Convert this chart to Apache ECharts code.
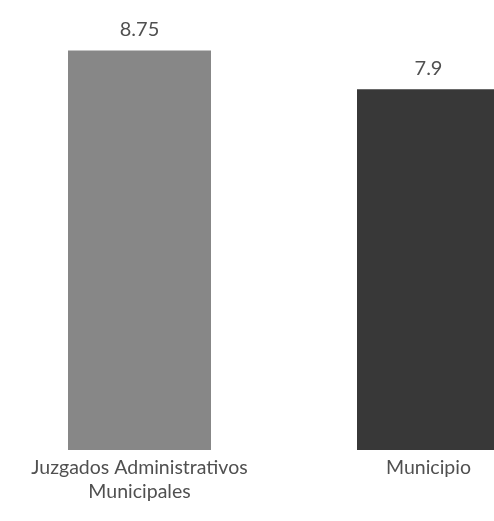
<!DOCTYPE html>
<html>
<head>
<meta charset="utf-8">
<script src="https://cdn.jsdelivr.net/npm/echarts@6/dist/echarts.min.js"></script>
<style>
html,body{margin:0;padding:0;background:#fff;}
#chart{width:494px;height:521px;}
</style>
</head>
<body>
<div id="chart"></div>
<script>
const categories = ['Juzgados Administrativos\nMunicipales', 'Municipio'];
const values = [8.75, 7.9];
const barColors = ['#878787', '#383838'];

const chart = echarts.init(document.getElementById('chart'));
chart.setOption({
  animation: false,
  backgroundColor: '#ffffff',
  grid: { left: -5, right: -79, top: 39, bottom: 71, containLabel: false, outerBoundsMode: 'none' },
  xAxis: {
    type: 'category',
    data: categories,
    axisLine: { show: false },
    axisTick: { show: false },
    axisLabel: {
      color: '#505050',
      fontFamily: 'Lato, "Open Sans", sans-serif',
      fontSize: 19.5,
      lineHeight: 24,
      margin: 6,
      interval: 0
    }
  },
  yAxis: {
    type: 'value',
    min: 0,
    max: 9,
    show: false,
    splitLine: { show: false }
  },
  series: [{
    type: 'bar',
    barWidth: 143,
    data: values.map((v, i) => ({ value: v, itemStyle: { color: barColors[i] } })),
    label: {
      show: true,
      position: 'top',
      distance: 11,
      color: '#505050',
      fontFamily: 'Lato, "Open Sans", sans-serif',
      fontSize: 20
    }
  }]
});
</script>
</body>
</html>
